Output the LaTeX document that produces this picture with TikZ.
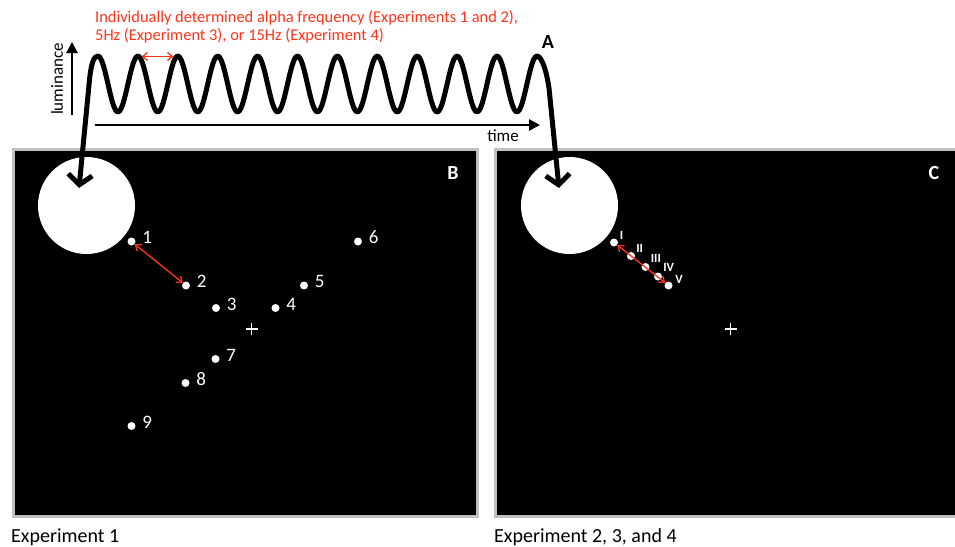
\documentclass[tikz,border=0pt]{standalone}
\usepackage{fontspec}
\setmainfont{Carlito}
\usepackage{tikz}
\usetikzlibrary{positioning, arrows.meta}
\definecolor{alphared}{RGB}{255,51,25}
\definecolor{framegray}{RGB}{192,192,192}

\begin{document}
\begin{tikzpicture}[
    x=1pt, y=-1pt,
    every node/.style={inner sep=0pt},
    screen/.style={
        fill=black,
        draw=framegray,
        line width=3pt
    },
    disc/.style={
        circle,
        fill=white,
        minimum size=97pt
    },
    dot/.style={
        circle,
        fill=white,
        minimum size=8pt
    },
    numlab/.style={text=white, font=\fontsize{19}{22}\selectfont},
    romlab/.style={text=white, font=\bfseries\fontsize{12.5}{14}\selectfont},
    panellab/.style={font=\bfseries\fontsize{20}{24}\selectfont},
    axislab/.style={font=\fontsize{17}{20}\selectfont},
    caption/.style={font=\fontsize{20}{24}\selectfont, anchor=base west},
    wave/.style={line width=5pt, line join=round, {Straight Barb[length=10pt,width=24pt]}-{Straight Barb[length=10pt,width=24pt]}},
    axisarrow/.style={-{Triangle[length=11pt,width=11pt]}, line width=2.6pt},
    freqarrow/.style={{Straight Barb[length=5pt,width=8pt]}-{Straight Barb[length=5pt,width=8pt]}, line width=1.3pt, draw=alphared},
    crossline/.style={draw=white, line width=1.4pt}
]
\useasboundingbox (0,0) rectangle (955,546);

% screens
\draw[screen] (13.5,149.5) rectangle (477.5,516.5);
\draw[screen] (495.5,149.5) rectangle (962,516.5);

\node[disc] (discB) at (86.5,205.5) {};
\node[disc] (discC) at (569.5,205.5) {};
\coordinate (tipB) at (79,188);
\coordinate (tipC) at (559,188);

% flicker
\draw[wave] (tipB) -- (89,85) .. controls (91,62) and (94,56) .. (98,56)
    -- plot[domain=98:537, samples=250] (\x, {84 - 28*cos(9.0226*(\x-98))})
    .. controls (541,56) and (546,68) .. (549,88) -- (tipC);

\coordinate (lumBot) at (72,115);
\coordinate (lumTop) at (72,42);
\coordinate (timeL) at (95,125);
\coordinate (timeR) at (540,125);
\draw[axisarrow] (lumBot) -- (lumTop);
\draw[axisarrow] (timeL) -- (timeR);
\node[axislab, rotate=90] (lum) at (57,79) {luminance};
\node[axislab] (time) at (503,136) {time};

\coordinate (pkL) at (141.5,56.5);
\coordinate (pkR) at (173.5,56.5);
\draw[freqarrow] (pkL) -- (pkR);
\node[align=left, anchor=north west, text=alphared, font=\fontsize{16.4}{18}\selectfont] (freqtext) at (95,10)
    {Individually determined alpha frequency (Experiments 1 and 2),\\5Hz (Experiment 3), or 15Hz (Experiment 4)};

\node[panellab] (labA) at (548,42) {A};
\node[panellab, text=white] (labB) at (453,173) {B};
\node[panellab, text=white] (labC) at (934,173) {C};

% experiment 1 positions
\node[dot] (d1) at (131.5,241.5) {};
\node[dot] (d2) at (186,285.5) {};
\node[dot] (d3) at (216,308) {};
\node[dot] (d4) at (275.5,308) {};
\node[dot] (d5) at (304,285.5) {};
\node[dot] (d6) at (358,241.5) {};
\node[dot] (d7) at (215.5,359) {};
\node[dot] (d8) at (185.5,383) {};
\node[dot] (d9) at (131.5,426) {};
\node[numlab, right=6.5pt of d1, yshift=4pt] (n1) {1};
\node[numlab, right=6.5pt of d2, yshift=4pt] (n2) {2};
\node[numlab, right=6.5pt of d3, yshift=4pt] (n3) {3};
\node[numlab, right=6.5pt of d4, yshift=4pt] (n4) {4};
\node[numlab, right=6.5pt of d5, yshift=4pt] (n5) {5};
\node[numlab, right=6.5pt of d6, yshift=4pt] (n6) {6};
\node[numlab, right=6.5pt of d7, yshift=4pt] (n7) {7};
\node[numlab, right=6.5pt of d8, yshift=4pt] (n8) {8};
\node[numlab, right=6.5pt of d9, yshift=4pt] (n9) {9};
\draw[freqarrow] (d1) -- (d2);
\coordinate (fixB) at (251.5,329);
\draw[crossline] (fixB) +(-6,0) -- +(6,0) (fixB) +(0,-6) -- +(0,6);

% experiments 2-4 positions
\node[dot] (cI) at (614,242.5) {};
\node[dot] (cII) at (631,256) {};
\node[dot] (cIII) at (645.5,267) {};
\node[dot] (cIV) at (658,276.5) {};
\node[dot] (cV) at (668.5,285.5) {};
\node[romlab, right=1.5pt of cI, yshift=7pt] (rI) {I};
\node[romlab, right=1pt of cII, yshift=8pt] (rII) {II};
\node[romlab, right=1pt of cIII, yshift=9pt] (rIII) {III};
\node[romlab, right=1pt of cIV, yshift=9pt] (rIV) {IV};
\node[romlab, right=2.5pt of cV, yshift=6pt] (rV) {V};
\draw[freqarrow] (cI) -- (cV);
\coordinate (fixC) at (730.5,329);
\draw[crossline] (fixC) +(-6,0) -- +(6,0) (fixC) +(0,-6) -- +(0,6);

\node[caption] (capB) at (11,542.7) {Experiment 1};
\node[caption] (capC) at (494,542.7) {Experiment 2, 3, and 4};
\end{tikzpicture}
\end{document}
